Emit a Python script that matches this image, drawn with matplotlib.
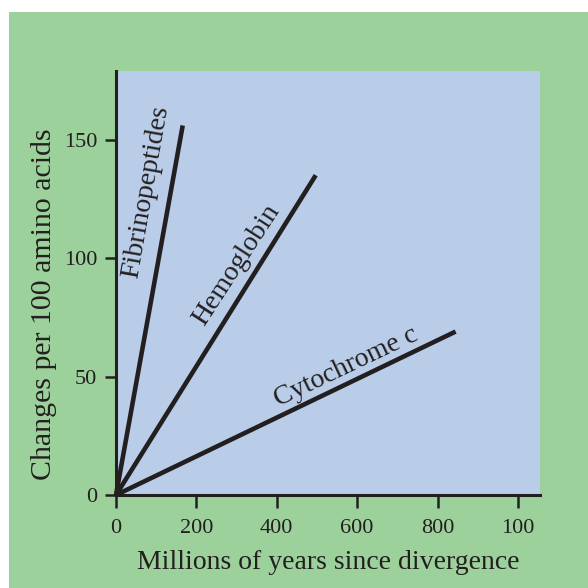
import matplotlib.pyplot as plt
from matplotlib.patches import Rectangle

# rates of amino acid change
proteins = ['Fibrinopeptides', 'Hemoglobin', 'Cytochrome c']
end_years = [166, 497, 845]
end_changes = [156, 135, 69]

x_ticks = [0, 200, 400, 600, 800, 1000]
x_tick_labels = ['0', '200', '400', '600', '800', '100']
y_ticks = [0, 50, 100, 150]

ink = '#231f20'
plt.rcParams['font.family'] = ['Liberation Serif', 'DejaVu Serif']
plt.rcParams['font.style'] = 'normal'

fig = plt.figure(figsize=(5.88, 5.88), dpi=100, facecolor='white')
fig.patches.append(Rectangle((9 / 588, 0), 1, (588 - 12) / 588, transform=fig.transFigure,
                             facecolor='#9dd19b', edgecolor='none', zorder=-10))

ax = fig.add_axes([116 / 588, 93 / 588, 424 / 588, 424 / 588])
ax.set_facecolor('#b9cde8')

for name, x1, y1 in zip(proteins, end_years, end_changes):
    ax.plot([0, x1], [0, y1], color=ink, lw=3.3, solid_capstyle='butt', clip_on=False)

# labels along the lines
label_kw = dict(ha='center', va='center', fontsize=20, color=ink, style='normal',
                rotation_mode='anchor')
ax.text(74, 128, 'Fibrinopeptides', rotation=80, **label_kw)
ax.text(300, 97, 'Hemoglobin', rotation=57, **label_kw)
ax.text(573, 54, 'Cytochrome c', rotation=25.5, **label_kw)

ax.set_xlim(0, 1055)
ax.set_ylim(0, 179)
ax.set_xticks(x_ticks)
ax.set_xticklabels(x_tick_labels)
ax.set_yticks(y_ticks)

for side in ['top', 'right']:
    ax.spines[side].set_visible(False)
for side in ['left', 'bottom']:
    ax.spines[side].set_color(ink)
    ax.spines[side].set_linewidth(2.2)

ax.tick_params(axis='x', direction='out', length=9, width=1.8, color=ink,
               labelsize=16, labelcolor=ink, pad=8)
ax.tick_params(axis='y', direction='out', length=8, width=1.8, color=ink,
               labelsize=16, labelcolor=ink, pad=5.5)

ax.set_xlabel('Millions of years since divergence', fontsize=20, color=ink, labelpad=9)
ax.set_ylabel('Changes per 100 amino acids', fontsize=21.5, color=ink)
ax.yaxis.set_label_coords(-0.139, 0.45)

fig.savefig('out.png', dpi=100, facecolor=fig.get_facecolor())
